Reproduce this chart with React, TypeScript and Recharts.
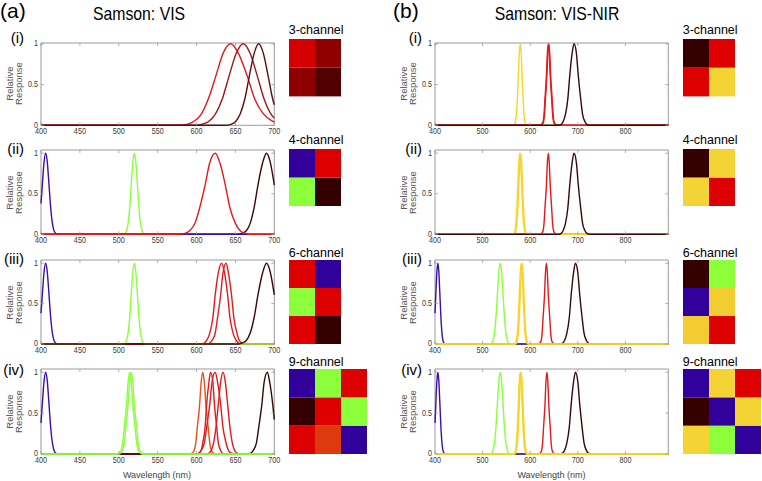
import React from 'react';
import { LineChart, Line, XAxis, YAxis, ReferenceArea, BarChart, Bar, Cell } from 'recharts';

type Pt = [number, number];
const FONT = '"Liberation Sans", Arial, Helvetica, sans-serif';
const AX = '#9a9a9a';
const TXT = '#3a3a3a';

// ---------- tick labels ----------
const VIS_X_TICKS = [400, 450, 500, 550, 600, 650, 700];
const NIR_X_TICKS = [400, 500, 600, 700, 800];
const Y_TICKS = [0, 0.5, 1];
const ROW_LABELS = ['(i)', '(ii)', '(iii)', '(iv)'];
const CHANNEL_LABELS = ['3-channel', '4-channel', '6-channel', '9-channel'];

// ---------- line colours ----------
const L_BLUE = '#3a10a8';
const L_GREEN = '#8cff3c';
const L_RED = '#e31a1c';
const L_DARK = '#3c0606';
const L_YELLOW = '#f7d42a';
const L_ORANGE = '#e8501c';

// ---------- mosaic colours ----------
const M_BLUE = '#32009a';
const M_GREEN = '#8cff3a';
const M_RED = '#dd0000';
const M_DARK = '#340000';
const M_YELLOW = '#f4d435';
const M_YELLOW2 = '#f2cc30';
const M_ORANGE = '#dd3a10';

// ---------- Samson: VIS curves ----------
const VIS3_RED: Pt[] = [[400,0],[577,0],[587,0.01],[596,0.045],[606,0.135],[615,0.32],[625,0.61],[634,0.88],[644,1],[654,0.88],[665,0.61],[675,0.32],[686,0.14],[696,0.06],[700,0.04]];
const VIS3_MID: Pt[] = [[400,0],[597,0],[606,0.011],[615,0.044],[624,0.135],[633,0.32],[642,0.61],[651,0.88],[660,1],[669,0.88],[678,0.61],[687,0.32],[696,0.135],[700,0.09]];
const VIS3_DARK: Pt[] = [[400,0],[638,0],[644,0.011],[650,0.044],[656,0.135],[662,0.32],[668,0.61],[674,0.88],[680,1],[686,0.88],[692,0.61],[698,0.32],[700,0.25]];

const VIS_BLUE: Pt[] = [[400,0.38],[402,0.65],[404,0.9],[406,1],[408,0.9],[410,0.65],[412,0.38],[414,0.18],[416,0.067],[418,0.02],[420,0.005],[422,0],[700,0]];
const VIS_GREEN: Pt[] = [[400,0],[506,0],[508,0.011],[510,0.044],[512,0.135],[514,0.325],[516,0.607],[518,0.882],[520,1],[522,0.882],[524,0.607],[526,0.325],[528,0.135],[530,0.044],[532,0.011],[534,0],[700,0]];
const VIS4_RED: Pt[] = [[400,0],[578,0],[585,0.011],[591,0.044],[598,0.135],[604,0.325],[611,0.607],[617,0.882],[624,1],[630,0.882],[637,0.607],[643,0.325],[650,0.135],[656,0.044],[663,0.011],[670,0],[700,0]];
const VIS_DARK690: Pt[] = [[400,0],[653,0],[658,0.011],[664,0.044],[669,0.135],[674,0.325],[679,0.607],[685,0.882],[690,1],[695,0.882],[700,0.607]];

const VIS6_RED1: Pt[] = [[400,0],[606,0],[610,0.011],[613,0.044],[617,0.135],[621,0.325],[624,0.607],[628,0.882],[632,1],[636,0.882],[640,0.607],[643,0.325],[647,0.135],[651,0.044],[654,0.011],[658,0],[700,0]];
const VIS6_RED2: Pt[] = [[400,0],[614,0],[617,0.011],[620,0.044],[624,0.135],[627,0.325],[631,0.607],[634,0.882],[638,1],[641,0.882],[645,0.607],[648,0.325],[652,0.135],[655,0.044],[659,0.011],[662,0],[700,0]];

const VIS9_GREEN1: Pt[] = [[400,0],[498,0],[500,0.011],[503,0.044],[505,0.135],[507,0.325],[510,0.607],[512,0.882],[514,1],[516,0.882],[518,0.607],[521,0.325],[523,0.135],[525,0.044],[528,0.011],[530,0],[700,0]];
const VIS9_GREEN2: Pt[] = [[400,0],[500,0],[502,0.011],[505,0.044],[507,0.135],[509,0.325],[512,0.607],[514,0.882],[516,1],[518,0.882],[520,0.607],[523,0.325],[525,0.135],[527,0.044],[530,0.011],[532,0],[700,0]];
const VIS9_ORANGE: Pt[] = [[400,0],[592,0],[594,0.011],[597,0.044],[599,0.135],[601,0.325],[604,0.607],[606,0.882],[608,1],[610,0.882],[612,0.607],[615,0.325],[617,0.135],[619,0.044],[622,0.011],[624,0],[700,0]];
const VIS9_RED1: Pt[] = [[400,0],[601,0],[603,0.011],[606,0.044],[608,0.135],[611,0.325],[613,0.607],[616,0.882],[618,1],[621,0.882],[623,0.607],[626,0.325],[628,0.135],[631,0.044],[633,0.011],[636,0],[700,0]];
const VIS9_RED2: Pt[] = [[400,0],[600,0],[603,0.011],[606,0.044],[610,0.135],[613,0.325],[617,0.607],[620,0.882],[624,1],[627,0.882],[631,0.607],[634,0.325],[638,0.135],[641,0.044],[645,0.011],[648,0],[700,0]];
const VIS9_RED3: Pt[] = [[400,0],[613,0],[616,0.011],[619,0.044],[622,0.135],[625,0.325],[628,0.607],[631,0.882],[634,1],[637,0.882],[640,0.607],[643,0.325],[646,0.135],[649,0.044],[652,0.011],[655,0],[700,0]];
const VIS9_DARK: Pt[] = [[400,0],[666,0],[670,0.011],[673,0.044],[677,0.135],[680,0.325],[684,0.607],[687,0.882],[691,1],[694,0.882],[698,0.607],[700,0.42]];

// ---------- Samson: VIS-NIR curves ----------
const NIR_BLUE: Pt[] = [[400,0.38],[402,0.65],[404,0.9],[406,1],[408,0.9],[410,0.65],[412,0.38],[414,0.18],[416,0.067],[418,0.02],[420,0.005],[422,0],[890,0]];
const NIR_GREEN: Pt[] = [[400,0],[516,0],[519,0.011],[522,0.044],[525,0.135],[528,0.325],[531,0.607],[534,0.882],[537,1],[540,0.882],[543,0.607],[546,0.325],[549,0.135],[552,0.044],[555,0.011],[558,0],[890,0]];
const NIR_Y578: Pt[] = [[400,0],[564,0],[566,0.011],[568,0.044],[570,0.135],[572,0.325],[574,0.607],[576,0.882],[578,1],[580,0.882],[582,0.607],[584,0.325],[586,0.135],[588,0.044],[590,0.011],[592,0],[890,0]];
const NIR_Y579: Pt[] = [[400,0],[565,0],[567,0.011],[569,0.044],[571,0.135],[573,0.325],[575,0.607],[577,0.882],[579,1],[581,0.882],[583,0.607],[585,0.325],[587,0.135],[589,0.044],[591,0.011],[593,0],[890,0]];
const NIR_Y580: Pt[] = [[400,0],[566,0],[568,0.011],[570,0.044],[572,0.135],[574,0.325],[576,0.607],[578,0.882],[580,1],[582,0.882],[584,0.607],[586,0.325],[588,0.135],[590,0.044],[592,0.011],[594,0],[890,0]];
const NIR_Y581: Pt[] = [[400,0],[567,0],[569,0.011],[571,0.044],[573,0.135],[575,0.325],[577,0.607],[579,0.882],[581,1],[583,0.882],[585,0.607],[587,0.325],[589,0.135],[591,0.044],[593,0.011],[595,0],[890,0]];
const NIR_Y583: Pt[] = [[400,0],[569,0],[571,0.011],[573,0.044],[575,0.135],[577,0.325],[579,0.607],[581,0.882],[583,1],[585,0.882],[587,0.607],[589,0.325],[591,0.135],[593,0.044],[595,0.011],[597,0],[890,0]];
const NIR_R634: Pt[] = [[400,0],[618,0],[620,0.011],[623,0.044],[625,0.135],[627,0.325],[630,0.607],[632,0.882],[634,1],[636,0.882],[638,0.607],[641,0.325],[643,0.135],[645,0.044],[648,0.011],[650,0],[890,0]];
const NIR_R635: Pt[] = [[400,0],[619,0],[621,0.011],[624,0.044],[626,0.135],[628,0.325],[631,0.607],[633,0.882],[635,1],[637,0.882],[639,0.607],[642,0.325],[644,0.135],[646,0.044],[649,0.011],[651,0],[890,0]];
const NIR_R638: Pt[] = [[400,0],[622,0],[624,0.011],[627,0.044],[629,0.135],[631,0.325],[634,0.607],[636,0.882],[638,1],[640,0.882],[642,0.607],[645,0.325],[647,0.135],[649,0.044],[652,0.011],[654,0],[890,0]];
const NIR_R639: Pt[] = [[400,0],[623,0],[625,0.011],[628,0.044],[630,0.135],[632,0.325],[635,0.607],[637,0.882],[639,1],[641,0.882],[643,0.607],[646,0.325],[648,0.135],[650,0.044],[653,0.011],[655,0],[890,0]];
const NIR_D692: Pt[] = [[400,0],[660,0],[665,0.011],[669,0.044],[674,0.135],[679,0.325],[683,0.607],[688,0.882],[692,1],[697,0.882],[701,0.607],[706,0.325],[710,0.135],[715,0.044],[719,0.011],[724,0],[890,0]];
const NIR_D695: Pt[] = [[400,0],[663,0],[668,0.011],[672,0.044],[677,0.135],[682,0.325],[686,0.607],[691,0.882],[695,1],[700,0.882],[704,0.607],[709,0.325],[713,0.135],[718,0.044],[722,0.011],[727,0],[890,0]];

// ---------- mosaics (rows top to bottom) ----------
const VIS3_GRID = [['#d20000', '#8e0000'], ['#8e0000', '#500000']];
const VIS4_GRID = [[M_BLUE, M_RED], [M_GREEN, M_DARK]];
const VIS6_GRID = [[M_RED, M_BLUE], [M_GREEN, M_RED], [M_RED, M_DARK]];
const VIS9_GRID = [[M_BLUE, M_GREEN, M_RED], [M_DARK, M_RED, M_GREEN], [M_RED, M_ORANGE, M_BLUE]];
const NIR3_GRID = [[M_DARK, M_RED], [M_RED, M_YELLOW]];
const NIR4_GRID = [[M_DARK, M_YELLOW], [M_YELLOW, M_RED]];
const NIR6_GRID = [[M_DARK, M_GREEN], [M_BLUE, M_YELLOW2], [M_YELLOW2, M_RED]];
const NIR9_GRID = [[M_BLUE, M_YELLOW, M_RED], [M_DARK, M_BLUE, M_YELLOW], [M_YELLOW, M_GREEN, M_BLUE]];

type Curve = { pts: Pt[]; color: string };

const VIS_CURVES: Curve[][] = [
  [{ pts: VIS3_RED, color: L_RED }, { pts: VIS3_MID, color: '#a01414' }, { pts: VIS3_DARK, color: '#5a0c0c' }],
  [{ pts: VIS_GREEN, color: L_GREEN }, { pts: VIS_DARK690, color: L_DARK }, { pts: VIS_BLUE, color: L_BLUE }, { pts: VIS4_RED, color: L_RED }],
  [{ pts: VIS_BLUE, color: L_BLUE }, { pts: VIS6_RED1, color: L_RED }, { pts: VIS6_RED2, color: L_RED }, { pts: VIS_GREEN, color: L_GREEN }, { pts: VIS_DARK690, color: L_DARK }],
  [{ pts: VIS_BLUE, color: L_BLUE }, { pts: VIS9_ORANGE, color: L_ORANGE }, { pts: VIS9_RED1, color: L_RED }, { pts: VIS9_RED2, color: L_RED }, { pts: VIS9_RED3, color: L_RED }, { pts: VIS9_DARK, color: L_DARK }, { pts: VIS9_GREEN1, color: L_GREEN }, { pts: VIS9_GREEN2, color: L_GREEN }],
];
const NIR_CURVES: Curve[][] = [
  [{ pts: NIR_Y579, color: L_YELLOW }, { pts: NIR_R638, color: L_RED }, { pts: NIR_R639, color: L_RED }, { pts: NIR_D692, color: L_DARK }],
  [{ pts: NIR_R638, color: L_RED }, { pts: NIR_Y578, color: L_YELLOW }, { pts: NIR_Y580, color: L_YELLOW }, { pts: NIR_D692, color: L_DARK }],
  [{ pts: NIR_D695, color: L_DARK }, { pts: NIR_R634, color: L_RED }, { pts: NIR_GREEN, color: L_GREEN }, { pts: NIR_BLUE, color: L_BLUE }, { pts: NIR_Y581, color: L_YELLOW }, { pts: NIR_Y583, color: L_YELLOW }],
  [{ pts: NIR_D695, color: L_DARK }, { pts: NIR_R635, color: L_RED }, { pts: NIR_GREEN, color: L_GREEN }, { pts: NIR_BLUE, color: L_BLUE }, { pts: NIR_Y579, color: L_YELLOW }, { pts: NIR_Y580, color: L_YELLOW }, { pts: NIR_Y581, color: L_YELLOW }],
];
const VIS_GRIDS = [VIS3_GRID, VIS4_GRID, VIS6_GRID, VIS9_GRID];
const NIR_GRIDS = [NIR3_GRID, NIR4_GRID, NIR6_GRID, NIR9_GRID];

// ---------- layout ----------
const PLOT_W = 233.3;
const YW = 40, RP = 12, TP = 4, XH = 16;
const ROWS = [
  { top: 42.7, h: 82.3, ymax: 1.01, label: 42.2, mTop: 39.3, mH: 57.4, cLabel: 34.3 },
  { top: 150, h: 84.3, ymax: 1.04, label: 153.3, mTop: 149, mH: 57, cLabel: 145 },
  { top: 260, h: 84, ymax: 1.04, label: 263.5, mTop: 260, mH: 84, cLabel: 257.3 },
  { top: 369, h: 85, ymax: 1.04, label: 374.7, mTop: 369, mH: 85, cLabel: 366.7 },
];

function Txt(props: { x: number; base: number; fs: number; anchor?: string; sx?: number; color?: string; children: any }) {
  const { x, base, fs, anchor = 'start', sx = 1, color = '#000', children } = props;
  const tx = anchor === 'middle' ? '-50%' : anchor === 'end' ? '-100%' : '0';
  const origin = anchor === 'middle' ? '50% 0' : anchor === 'end' ? '100% 0' : '0 0';
  return (
    <div style={{ position: 'absolute', left: x, top: base - 0.8465 * fs, fontSize: fs, lineHeight: `${fs}px`, fontFamily: FONT, color, whiteSpace: 'nowrap', transform: `translateX(${tx}) scaleX(${sx})`, transformOrigin: origin }}>
      {children}
    </div>
  );
}

function YLabel({ cx, cy }: { cx: number; cy: number }) {
  const w = 80, h = 17;
  return (
    <div style={{ position: 'absolute', left: cx - w / 2, top: cy - h / 2, width: w, height: h, transform: 'rotate(-90deg)', transformOrigin: '50% 50%', textAlign: 'center', fontFamily: FONT, fontSize: 9.5, lineHeight: '8.5px', color: '#555' }}>
      <div>Relative</div>
      <div>Response</div>
    </div>
  );
}

function Plot({ left, top, h, xmax, ymax, xticks, curves }: { left: number; top: number; h: number; xmax: number; ymax: number; xticks: number[]; curves: Curve[] }) {
  const chartW = YW + PLOT_W + RP;
  const chartH = TP + h + XH;
  const XT = (p: any) => {
    const { x, y, payload } = p;
    return (
      <g>
        <line x1={x} x2={x} y1={y} y2={y - 3} stroke={AX} strokeWidth={0.8} />
        <line x1={x} x2={x} y1={y - h} y2={y - h + 3} stroke={AX} strokeWidth={0.8} />
        <text transform={`translate(${x} ${y + 9}) scale(0.85 1)`} textAnchor="middle" fontSize={8.5} fill={TXT} fontFamily={FONT}>{payload.value}</text>
      </g>
    );
  };
  const YT = (p: any) => {
    const { x, y, payload } = p;
    return (
      <g>
        <line x1={x} x2={x + 3} y1={y} y2={y} stroke={AX} strokeWidth={0.8} />
        <line x1={x + PLOT_W} x2={x + PLOT_W - 3} y1={y} y2={y} stroke={AX} strokeWidth={0.8} />
        <text transform={`translate(${x - 3} ${y + 2.5}) scale(0.85 1)`} textAnchor="end" fontSize={8.5} fill={TXT} fontFamily={FONT}>{String(payload.value)}</text>
      </g>
    );
  };
  return (
    <div style={{ position: 'absolute', left: left - YW, top: top - TP }}>
      <LineChart width={chartW} height={chartH} margin={{ top: TP, right: RP, bottom: 0, left: 0 }} style={{ overflow: 'visible' }}>
        <XAxis dataKey="x" type="number" domain={[400, xmax]} ticks={xticks} interval={0} height={XH} tickSize={0} tickMargin={0} axisLine={false} tickLine={false} tick={XT} allowDuplicatedCategory={false} />
        <YAxis type="number" domain={[0, ymax]} ticks={Y_TICKS} interval={0} width={YW} tickSize={0} tickMargin={0} axisLine={false} tickLine={false} tick={YT} />
        <ReferenceArea x1={400} x2={xmax} y1={0} y2={ymax} fill="none" stroke={AX} strokeWidth={1} ifOverflow="visible" />
        {curves.map((c, i) => (
          <Line key={i} data={c.pts.map(([x, y]) => ({ x, y }))} dataKey="y" type="monotone" stroke={c.color} strokeWidth={1.4} dot={false} activeDot={false} isAnimationActive={false} />
        ))}
      </LineChart>
    </div>
  );
}

function Mosaic({ left, top, h, grid }: { left: number; top: number; h: number; grid: string[][] }) {
  const nR = grid.length, nC = grid[0].length;
  const data = grid[0].map((_, j) => {
    const o: any = { c: String(j) };
    grid.forEach((_, i) => { o['r' + i] = 1; });
    return o;
  });
  const rowsBottomUp = grid.map((row, i) => ({ row, i })).reverse();
  return (
    <div style={{ position: 'absolute', left, top }}>
      <BarChart width={26 * nC} height={h} data={data} margin={{ top: 0, right: 0, bottom: 0, left: 0 }} barCategoryGap={0}>
        <XAxis dataKey="c" hide />
        <YAxis type="number" domain={[0, nR]} hide />
        {rowsBottomUp.map(({ row, i }) => (
          <Bar key={i} dataKey={'r' + i} stackId="s" isAnimationActive={false}>
            {row.map((col, j) => <Cell key={j} fill={col} />)}
          </Bar>
        ))}
      </BarChart>
    </div>
  );
}

export default function App() {
  return (
    <div style={{ position: 'absolute', left: 0, top: 0, width: 762, height: 481, background: '#fff', overflow: 'hidden', fontFamily: FONT }}>
      <Txt x={0} base={18} fs={21}>(a)</Txt>
      <Txt x={393} base={18} fs={21}>(b)</Txt>
      <Txt x={139} base={20.6} fs={18.6} anchor="middle" sx={0.85}>Samson: VIS</Txt>
      <Txt x={557} base={20.6} fs={18.6} anchor="middle" sx={0.85}>Samson: VIS-NIR</Txt>

      {ROWS.map((r, k) => (
        <React.Fragment key={k}>
          <Txt x={24} base={r.label} fs={15} anchor="end">{ROW_LABELS[k]}</Txt>
          <Txt x={422} base={r.label} fs={15} anchor="end">{ROW_LABELS[k]}</Txt>
          <YLabel cx={14.3} cy={r.top + r.h / 2} />
          <YLabel cx={408} cy={r.top + r.h / 2} />
          <Plot left={40.7} top={r.top} h={r.h} xmax={700} ymax={r.ymax} xticks={VIS_X_TICKS} curves={VIS_CURVES[k]} />
          <Plot left={435} top={r.top} h={r.h} xmax={890} ymax={r.ymax} xticks={NIR_X_TICKS} curves={NIR_CURVES[k]} />
          <Txt x={288.7} base={r.cLabel} fs={12.5}>{CHANNEL_LABELS[k]}</Txt>
          <Txt x={682.7} base={r.cLabel} fs={12.5}>{CHANNEL_LABELS[k]}</Txt>
          <Mosaic left={288.7} top={r.mTop} h={r.mH} grid={VIS_GRIDS[k]} />
          <Mosaic left={682.7} top={r.mTop} h={r.mH} grid={NIR_GRIDS[k]} />
        </React.Fragment>
      ))}

      <Txt x={157} base={478.3} fs={9} anchor="middle" color="#444">Wavelength (nm)</Txt>
      <Txt x={551.5} base={478.3} fs={9} anchor="middle" color="#444">Wavelength (nm)</Txt>
    </div>
  );
}
